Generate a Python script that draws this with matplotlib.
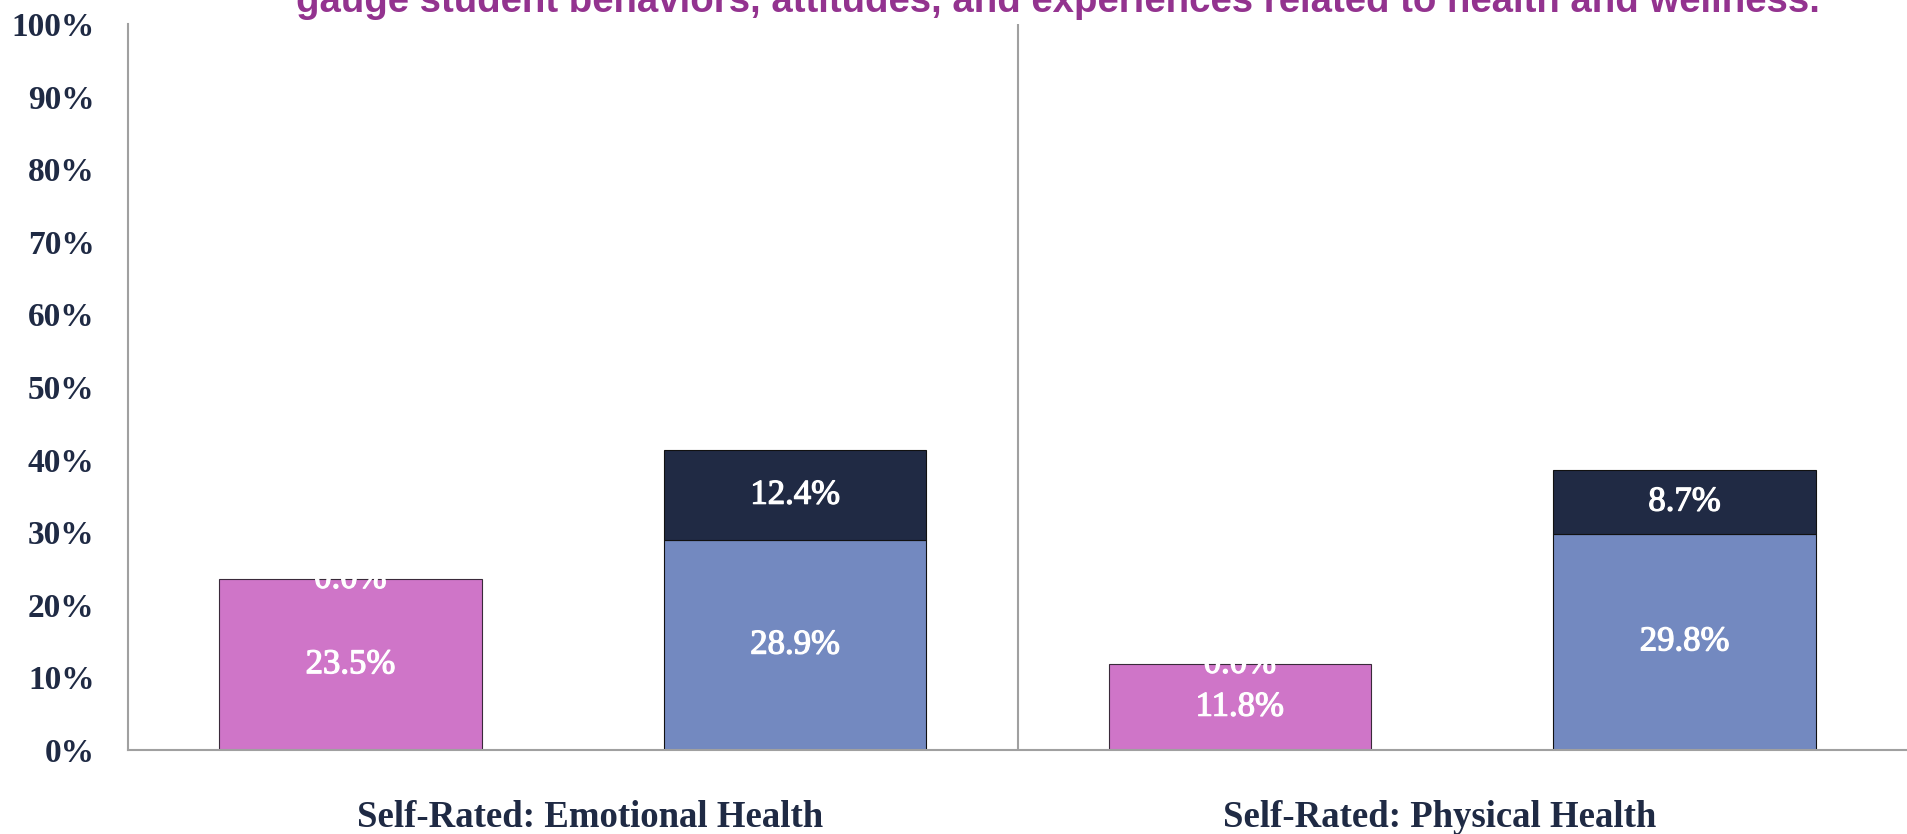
import matplotlib
matplotlib.use("Agg")
import matplotlib.pyplot as plt
import matplotlib.patheffects as pe
import numpy as np

categories = ["Self-Rated: Emotional Health", "Self-Rated: Physical Health"]
pink_vals = [23.5, 11.8]
pink_top_vals = [0.0, 0.0]
blue_vals = [28.9, 29.8]
navy_vals = [12.4, 8.7]
y_ticks = [0, 10, 20, 30, 40, 50, 60, 70, 80, 90, 100]
y_tick_labels = [f"{t}%" for t in y_ticks]
title_text = "gauge student behaviors, attitudes, and experiences related to health and wellness."

PINK = "#CF75C8"
BLUE = "#7389C0"
NAVY = "#202A44"
TEXT = "#1F2A44"
PURPLE = "#93338F"
GRAY = "#A0A0A0"
SERIF = ["Liberation Serif", "DejaVu Serif"]

fig = plt.figure(figsize=(19.07, 8.34), dpi=100)
ax = fig.add_axes([128 / 1907, 84 / 834, 1 - 128 / 1907, (750 - 24) / 834])

x = np.arange(len(categories))
off = 0.25
w = 0.295

ax.bar(x - off, pink_vals, w, color=PINK, edgecolor="#3a2a3a", linewidth=0.8)
ax.bar(x - off, pink_top_vals, w, bottom=pink_vals, color=NAVY, edgecolor="#3a2a3a", linewidth=0.0)
ax.bar(x + off, blue_vals, w, color=BLUE, edgecolor="#111111", linewidth=0.8)
ax.bar(x + off, navy_vals, w, bottom=blue_vals, color=NAVY, edgecolor="#111111", linewidth=0.8)

lab_kw = dict(ha="center", va="center", color="white", fontsize=25, family=SERIF,
              path_effects=[pe.withStroke(linewidth=0.9, foreground="white")])
for i in range(len(categories)):
    ax.text(x[i] - off, pink_vals[i] / 2, f"{pink_vals[i]:.1f}%", **lab_kw)
    ax.text(x[i] - off, pink_vals[i] + pink_top_vals[i] / 2, f"{pink_top_vals[i]:.1f}%", **lab_kw)
    ax.text(x[i] + off, blue_vals[i] / 2, f"{blue_vals[i]:.1f}%", **lab_kw)
    ax.text(x[i] + off, blue_vals[i] + navy_vals[i] / 2, f"{navy_vals[i]:.1f}%", **lab_kw)

ax.set_xlim(-0.5, len(categories) - 0.5)
ax.set_ylim(0, 100)
ax.set_yticks(y_ticks)
ax.set_yticklabels(y_tick_labels, fontsize=24, fontweight="bold", color=TEXT, family=SERIF)
ax.tick_params(axis="y", length=0, pad=24)
ax.set_xticks(x + np.array([0.02, -0.025]))
ax.set_xticklabels(categories, fontsize=26.5, fontweight="bold", color=TEXT, family=SERIF)
ax.tick_params(axis="x", length=0, pad=36)

for s in ["top", "right"]:
    ax.spines[s].set_visible(False)
for s in ["left", "bottom"]:
    ax.spines[s].set_color(GRAY)
    ax.spines[s].set_linewidth(1.5)
ax.axvline(0.5, color=GRAY, linewidth=1.5)

fig.text(296 / 1907, 1 - 12 / 834, title_text, ha="left", va="baseline",
         fontsize=27.6, fontweight="bold", color=PURPLE, family=["Liberation Sans", "DejaVu Sans"])

fig.savefig("out.png", dpi=100)
